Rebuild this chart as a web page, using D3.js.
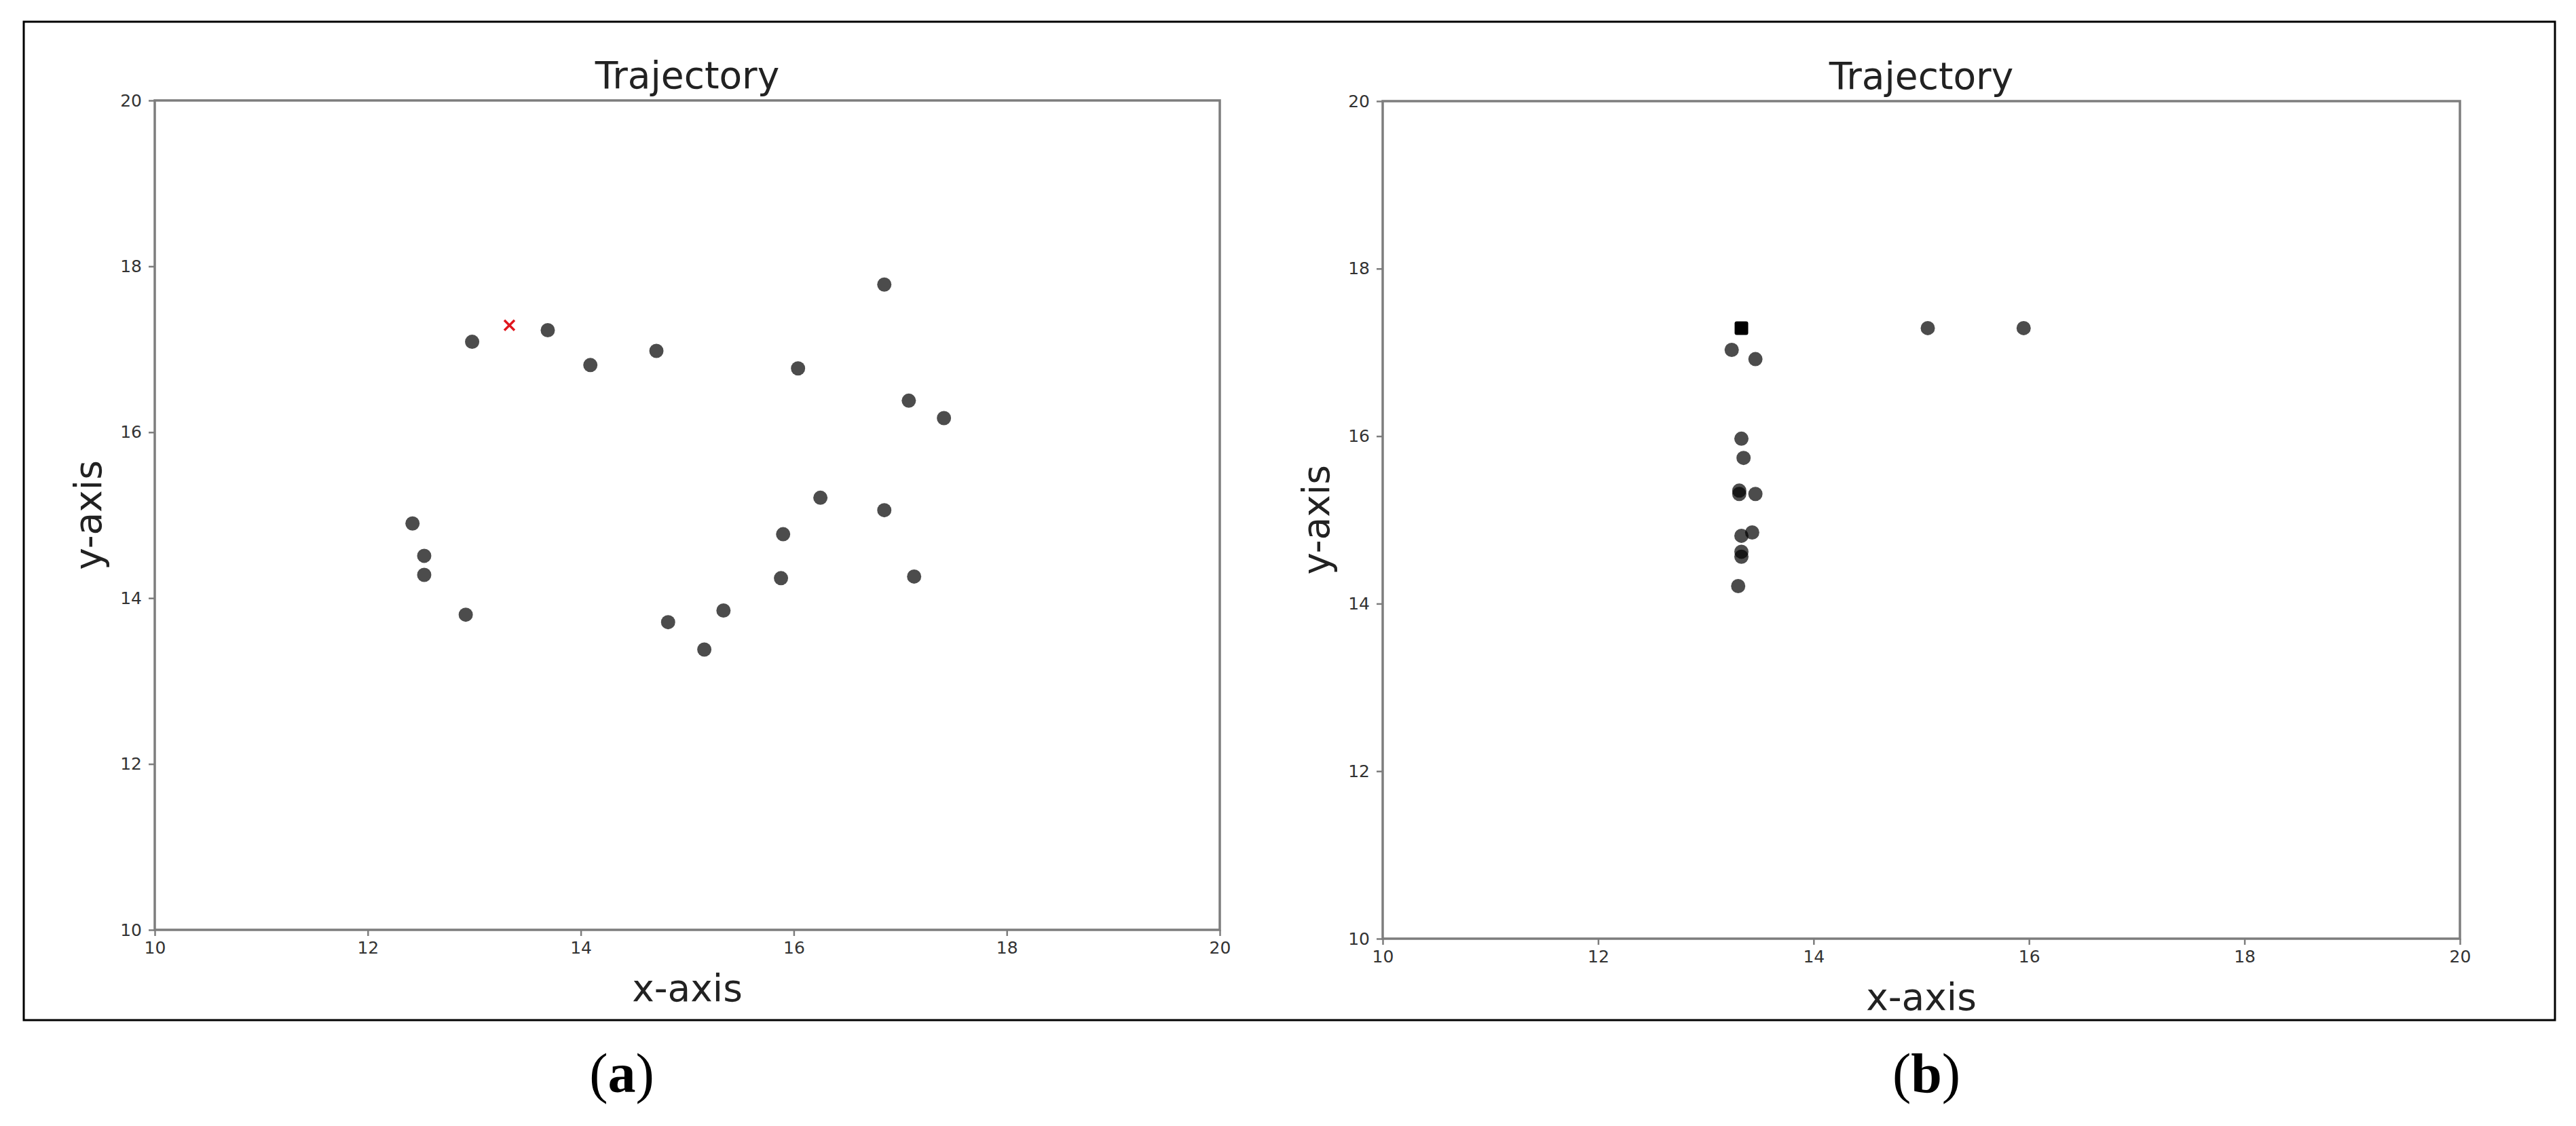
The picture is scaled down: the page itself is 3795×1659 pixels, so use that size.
<!DOCTYPE html>
<html>
<head>
<meta charset="utf-8">
<script src="https://cdn.jsdelivr.net/npm/d3@7"></script>
<style>
  html, body { margin: 0; padding: 0; background: #fff; }
  svg { display: block; }
</style>
</head>
<body>
<svg id="chart" width="3795" height="1659"></svg>
<script>
// ---------- DATA ----------
const xTicks = [10, 12, 14, 16, 18, 20];
const yTicks = [10, 12, 14, 16, 18, 20];
const titleText = "Trajectory";
const xLabelText = "x-axis";
const yLabelText = "y-axis";
const captions = ["a", "b"];

// Panel (a): scattered trajectory points + red target marker
const aX = [12.98, 13.69, 14.09, 14.71, 16.85, 16.04, 17.08, 17.41, 16.25, 16.85, 15.90, 15.88, 17.13, 15.34, 14.82, 15.16, 12.42, 12.53, 12.53, 12.92];
const aY = [17.09, 17.23, 16.81, 16.98, 17.78, 16.77, 16.38, 16.17, 15.21, 15.06, 14.77, 14.24, 14.26, 13.85, 13.71, 13.38, 14.90, 14.51, 14.28, 13.80];
const aTargetX = [13.33];
const aTargetY = [17.29];

// Panel (b): converged points + black square marker
const bX = [15.06, 15.95, 13.24, 13.46, 13.33, 13.35, 13.31, 13.31, 13.46, 13.33, 13.43, 13.33, 13.33, 13.30];
const bY = [17.29, 17.29, 17.03, 16.92, 15.97, 15.74, 15.35, 15.31, 15.31, 14.81, 14.85, 14.62, 14.56, 14.21];
const bSquareX = [13.33];
const bSquareY = [17.29];

// ---------- DRAW ----------
const svg = d3.select("#chart");
svg.append("rect").attr("width", 3795).attr("height", 1659).attr("fill", "#fff");

// outer frame
svg.append("rect")
  .attr("x", 35).attr("y", 32)
  .attr("width", 3764 - 35).attr("height", 1503 - 32)
  .attr("fill", "none").attr("stroke", "#000").attr("stroke-width", 3);

const axisColor = "#7d7d7d";
const tickTextColor = "#333";

function drawPanel(p) {
  const x = d3.scaleLinear().domain([10, 20]).range([p.left, p.right]);
  const y = d3.scaleLinear().domain([10, 20]).range([p.bottom, p.top]);
  const g = svg.append("g");

  // frame of plot area
  g.append("rect")
    .attr("x", p.left).attr("y", p.top)
    .attr("width", p.right - p.left).attr("height", p.bottom - p.top)
    .attr("fill", "none").attr("stroke", axisColor).attr("stroke-width", 3.5);

  const xAxis = d3.axisBottom(x).tickValues(xTicks).tickSize(9).tickPadding(8).tickFormat(d3.format("d"));
  const yAxis = d3.axisLeft(y).tickValues(yTicks).tickSize(9).tickPadding(10).tickFormat(d3.format("d"));

  const gx = g.append("g").attr("transform", `translate(0,${p.bottom})`).call(xAxis);
  const gy = g.append("g").attr("transform", `translate(${p.left},0)`).call(yAxis);
  [gx, gy].forEach(ax => {
    ax.select(".domain").remove();
    ax.selectAll(".tick line").attr("stroke", axisColor).attr("stroke-width", 2.5);
    ax.selectAll(".tick text")
      .attr("fill", tickTextColor)
      .attr("font-family", "DejaVu Sans, sans-serif")
      .attr("font-size", 25);
  });

  // title
  g.append("text")
    .attr("x", (p.left + p.right) / 2).attr("y", p.top - 18)
    .attr("text-anchor", "middle")
    .attr("font-family", "DejaVu Sans, sans-serif").attr("font-size", 55)
    .attr("fill", "#222").text(titleText);

  // x label
  g.append("text")
    .attr("x", (p.left + p.right) / 2).attr("y", p.bottom + 105)
    .attr("text-anchor", "middle")
    .attr("font-family", "DejaVu Sans, sans-serif").attr("font-size", 55)
    .attr("fill", "#222").text(xLabelText);

  // y label
  g.append("text")
    .attr("transform", `translate(${p.left - 79},${(p.top + p.bottom) / 2}) rotate(-90)`)
    .attr("text-anchor", "middle")
    .attr("font-family", "DejaVu Sans, sans-serif").attr("font-size", 55)
    .attr("fill", "#222").text(yLabelText);

  // points
  const pts = p.xs.map((v, i) => ({ x: v, y: p.ys[i] }));
  g.append("g").selectAll("circle").data(pts).join("circle")
    .attr("cx", d => x(d.x)).attr("cy", d => y(d.y))
    .attr("r", 10.5)
    .attr("fill", "#000").attr("fill-opacity", 0.7);

  p.extra(g, x, y);

  // caption
  const cap = svg.append("text")
    .attr("x", p.capX).attr("y", 1609)
    .attr("text-anchor", "middle")
    .attr("font-family", "Liberation Serif, serif").attr("font-size", 82)
    .attr("fill", "#000");
  cap.append("tspan").text("(");
  cap.append("tspan").attr("font-weight", "bold").text(p.caption);
  cap.append("tspan").text(")");
}

drawPanel({
  left: 228, right: 1797, top: 148, bottom: 1370,
  xs: aX, ys: aY, caption: captions[0], capX: 916,
  extra: (g, x, y) => {
    const t = aTargetX.map((v, i) => ({ x: v, y: aTargetY[i] }));
    const s = 7.5;
    const mk = g.append("g").selectAll("g").data(t).join("g")
      .attr("transform", d => `translate(${x(d.x)},${y(d.y)})`);
    mk.append("line").attr("x1", -s).attr("y1", -s).attr("x2", s).attr("y2", s)
      .attr("stroke", "#e0161e").attr("stroke-width", 3.5);
    mk.append("line").attr("x1", -s).attr("y1", s).attr("x2", s).attr("y2", -s)
      .attr("stroke", "#e0161e").attr("stroke-width", 3.5);
  }
});

drawPanel({
  left: 2037, right: 3624, top: 149, bottom: 1383,
  xs: bX, ys: bY, caption: captions[1], capX: 2838,
  extra: (g, x, y) => {
    const t = bSquareX.map((v, i) => ({ x: v, y: bSquareY[i] }));
    g.append("g").selectAll("rect").data(t).join("rect")
      .attr("x", d => x(d.x) - 10).attr("y", d => y(d.y) - 10)
      .attr("width", 20).attr("height", 20).attr("rx", 3)
      .attr("fill", "#000");
  }
});
</script>
</body>
</html>
